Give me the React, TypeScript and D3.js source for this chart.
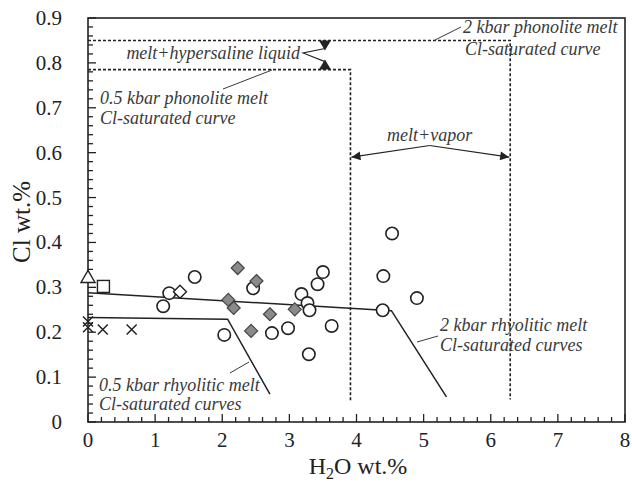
import React from "react";
import * as d3 from "d3";

const circleX = [1.12, 1.21, 1.59, 2.03, 2.46, 2.74, 2.98, 3.18, 3.27, 3.30, 3.29, 3.42, 3.50, 3.63, 4.39, 4.40, 4.53, 4.90];
const circleY = [0.258, 0.287, 0.323, 0.194, 0.298, 0.198, 0.209, 0.285, 0.265, 0.249, 0.151, 0.307, 0.334, 0.214, 0.249, 0.325, 0.420, 0.276];
const greyDiamondX = [2.23, 2.51, 2.09, 2.17, 2.43, 2.71, 3.08];
const greyDiamondY = [0.343, 0.314, 0.272, 0.254, 0.203, 0.240, 0.251];
const openDiamondX = [1.37];
const openDiamondY = [0.29];
const triangleX = [0];
const triangleY = [0.322];
const squareX = [0.23];
const squareY = [0.302];
const crossX = [0, 0, 0.22, 0.65];
const crossY = [0.224, 0.211, 0.206, 0.206];

const rhy2X = [0, 4.52, 5.34];
const rhy2Y = [0.288, 0.248, 0.056];
const rhy05X = [0, 2.08, 2.71];
const rhy05Y = [0.233, 0.229, 0.062];
const pho2X = [0, 6.29, 6.29];
const pho2Y = [0.85, 0.85, 0.05];
const pho05X = [0, 3.91, 3.91];
const pho05Y = [0.785, 0.785, 0.045];

const xTicks = [0, 1, 2, 3, 4, 5, 6, 7, 8];
const yTicks = [0, 0.1, 0.2, 0.3, 0.4, 0.5, 0.6, 0.7, 0.8, 0.9];
const yTickLabels = ["0", "0.1", "0.2", "0.3", "0.4", "0.5", "0.6", "0.7", "0.8", "0.9"];

const FONT = "'Liberation Serif', 'Times New Roman', serif";

export default function App() {
  const x = d3.scaleLinear().domain([0, 8]).range([88, 625]);
  const y = d3.scaleLinear().domain([0, 0.9]).range([422, 18]);
  const line = d3.line<[number, number]>().x((d) => x(d[0])).y((d) => y(d[1]));
  const zip = (a: number[], b: number[]) => a.map((v, i) => [v, b[i]] as [number, number]);

  const xMinor = d3.range(0, 8.001, 0.2);
  const yMinor = d3.range(0, 0.9001, 0.02);
  const ink = "#222";
  const txt = "#3a3a3a";
  const ann = { fontFamily: FONT, fontStyle: "italic", fontSize: 18, fill: txt } as const;

  const diamond = (cx: number, cy: number, r: number) =>
    `M${cx},${cy - r}L${cx + r},${cy}L${cx},${cy + r}L${cx - r},${cy}Z`;

  const hyperX = 3.53;
  const vaporApex: [number, number] = [5.09, 0.616];
  const vaporY = 0.59;

  return (
    <svg width={632} height={488} style={{ display: "block", position: "absolute", left: 0, top: 0 }}>
      <defs>
        <marker id="ah" viewBox="0 0 10 10" refX="10" refY="5" markerWidth="10" markerHeight="9" orient="auto" markerUnits="userSpaceOnUse">
          <path d="M0,0L10,5L0,10Z" fill={ink} />
        </marker>
      </defs>
      <rect x={0} y={0} width={632} height={488} fill="#fff" />

      <rect x={x(0)} y={y(0.9)} width={x(8) - x(0)} height={y(0) - y(0.9)} fill="none" stroke={ink} strokeWidth={1.6} />

      {xMinor.map((v, i) => {
        const major = Math.abs(v - Math.round(v)) < 1e-6;
        return <line key={"xm" + i} x1={x(v)} x2={x(v)} y1={y(0)} y2={y(0) - (major ? 8 : 5)} stroke={ink} strokeWidth={1.3} />;
      })}
      {yMinor.map((v, i) => {
        const major = Math.abs(v * 10 - Math.round(v * 10)) < 1e-6;
        return <line key={"ym" + i} x1={x(0)} x2={x(0) + (major ? 8 : 5)} y1={y(v)} y2={y(v)} stroke={ink} strokeWidth={1.3} />;
      })}

      {xTicks.map((v) => (
        <text key={"xt" + v} x={x(v)} y={447} textAnchor="middle" fontFamily={FONT} fontSize={21} fill={ink}>
          {v}
        </text>
      ))}
      {yTicks.map((v, i) => (
        <text key={"yt" + v} x={62} y={y(v) + 7} textAnchor="end" fontFamily={FONT} fontSize={21} fill={ink}>
          {yTickLabels[i]}
        </text>
      ))}

      <text x={358} y={474} textAnchor="middle" fontFamily={FONT} fontSize={24} fill={ink}>
        H<tspan fontSize={16} dy={5}>2</tspan>
        <tspan dy={-5}>O wt.%</tspan>
      </text>
      <text transform={`translate(30,222) rotate(-90)`} textAnchor="middle" fontFamily={FONT} fontSize={25} fill={ink}>
        Cl wt.%
      </text>

      <path d={line(zip(pho2X, pho2Y)) || ""} fill="none" stroke={ink} strokeWidth={1.6} strokeDasharray="3,2" />
      <path d={line(zip(pho05X, pho05Y)) || ""} fill="none" stroke={ink} strokeWidth={1.6} strokeDasharray="3,2" />

      <path d={line(zip(rhy2X, rhy2Y)) || ""} fill="none" stroke={ink} strokeWidth={1.5} />
      <path d={line(zip(rhy05X, rhy05Y)) || ""} fill="none" stroke={ink} strokeWidth={1.5} />

      {circleX.map((v, i) => (
        <circle key={"c" + i} cx={x(v)} cy={y(circleY[i])} r={6.2} fill="#fff" stroke={ink} strokeWidth={1.6} />
      ))}
      {greyDiamondX.map((v, i) => (
        <path key={"gd" + i} d={diamond(x(v), y(greyDiamondY[i]), 6.5)} fill="#8a8a8a" stroke="#444" strokeWidth={1.2} />
      ))}
      {openDiamondX.map((v, i) => (
        <path key={"od" + i} d={diamond(x(v), y(openDiamondY[i]), 6.5)} fill="#fff" stroke={ink} strokeWidth={1.4} />
      ))}
      {triangleX.map((v, i) => {
        const cx = x(v), cy = y(triangleY[i]);
        return <path key={"t" + i} d={`M${cx},${cy - 7}L${cx + 7},${cy + 5}L${cx - 7},${cy + 5}Z`} fill="#fff" stroke={ink} strokeWidth={1.4} />;
      })}
      {squareX.map((v, i) => {
        const cx = x(v), cy = y(squareY[i]);
        return <rect key={"s" + i} x={cx - 6} y={cy - 6} width={12} height={12} fill="#fff" stroke={ink} strokeWidth={1.4} />;
      })}
      {crossX.map((v, i) => {
        const cx = x(v), cy = y(crossY[i]);
        return (
          <path key={"x" + i} d={`M${cx - 5},${cy - 5}L${cx + 5},${cy + 5}M${cx + 5},${cy - 5}L${cx - 5},${cy + 5}`} stroke={ink} strokeWidth={1.5} />
        );
      })}

      <path d={`M${x(hyperX) - 6},${y(0.85)}L${x(hyperX) + 6},${y(0.85)}L${x(hyperX)},${y(0.85) + 10}Z`} fill={ink} />
      <path d={`M${x(hyperX) - 6},${y(0.785)}L${x(hyperX) + 6},${y(0.785)}L${x(hyperX)},${y(0.785) - 10}Z`} fill={ink} />
      <path d={`M${x(hyperX)},${y(0.85) + 8}L${303},${53}L${x(hyperX)},${y(0.785) - 8}`} fill="none" stroke={ink} strokeWidth={1.1} />
      <text x={300} y={59} textAnchor="end" {...ann}>melt+hypersaline liquid</text>

      <path d={`M${x(vaporApex[0])},${y(vaporApex[1])}L${x(pho05X[1]) + 1},${y(vaporY)}`} stroke={ink} strokeWidth={1.2} markerEnd="url(#ah)" />
      <path d={`M${x(vaporApex[0])},${y(vaporApex[1])}L${x(pho2X[1]) - 1},${y(vaporY)}`} stroke={ink} strokeWidth={1.2} markerEnd="url(#ah)" />
      <text x={x(vaporApex[0])} y={141} textAnchor="middle" {...ann}>melt+vapor</text>

      <line x1={435} y1={40} x2={461} y2={27} stroke={txt} strokeWidth={1} />
      <text x={463} y={33} {...ann}>2 kbar phonolite melt</text>
      <text x={465} y={55} {...ann}>Cl-saturated curve</text>

      <line x1={223} y1={89} x2={272} y2={70} stroke={txt} strokeWidth={1} />
      <text x={100} y={104} {...ann}>0.5 kbar phonolite melt</text>
      <text x={100} y={124} {...ann}>Cl-saturated curve</text>

      <line x1={230} y1={373} x2={249} y2={362} stroke={txt} strokeWidth={1} />
      <text x={99} y={391} {...ann}>0.5 kbar rhyolitic melt</text>
      <text x={99} y={410} {...ann}>Cl-saturated curves</text>

      <line x1={417} y1={342} x2={438} y2={336} stroke={txt} strokeWidth={1} />
      <text x={440} y={331} {...ann}>2 kbar rhyolitic melt</text>
      <text x={440} y={351} {...ann}>Cl-saturated curves</text>
    </svg>
  );
}
